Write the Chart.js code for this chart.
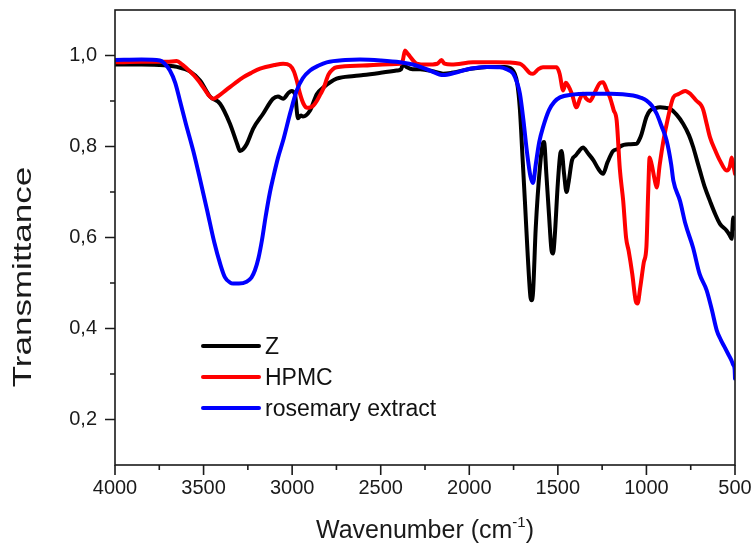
<!DOCTYPE html>
<html>
<head>
<meta charset="utf-8">
<script src="https://cdn.jsdelivr.net/npm/chart.js@4/dist/chart.umd.min.js"></script>
<style>
html,body{margin:0;padding:0;background:#fff;}
#wrap{width:752px;height:545px;position:relative;}
</style>
</head>
<body>
<div id="wrap"><canvas id="c" width="752" height="545"></canvas></div>
<script>
// ---- data ----
const seriesNames = ['Z', 'HPMC', 'rosemary extract'];

const zWave = [4000,3850,3750,3706,3650,3577,3520,3464,3407,3351,3310,3294,3275,3257,3219,3164,3108,3080,3051,3020,3003,2984,2967,2950,2939,2899,2861,2823,2749,2650,2599,2500,2410,2385,2374,2355,2320,2278,2200,2148,2100,2000,1900,1800,1760,1730,1714,1700,1686,1670,1655,1648,1640,1625,1600,1585,1578,1565,1550,1535,1527,1518,1500,1485,1479,1465,1451,1440,1420,1400,1380,1358,1330,1300,1270,1245,1220,1188,1160,1149,1100,1055,1040,1027,1000,980,950,923,895,867,830,793,760,737,715,698,670,641,610,585,547,530,519,510,505,500];
const zT = [0.980,0.980,0.979,0.978,0.975,0.965,0.945,0.910,0.894,0.850,0.805,0.790,0.795,0.805,0.840,0.872,0.905,0.910,0.905,0.918,0.922,0.915,0.862,0.868,0.866,0.879,0.915,0.930,0.949,0.955,0.957,0.962,0.967,0.970,0.980,0.975,0.970,0.970,0.965,0.960,0.962,0.970,0.975,0.975,0.970,0.940,0.880,0.780,0.680,0.560,0.470,0.462,0.480,0.620,0.760,0.806,0.810,0.740,0.650,0.570,0.565,0.600,0.720,0.787,0.790,0.740,0.700,0.720,0.770,0.780,0.790,0.798,0.785,0.770,0.750,0.740,0.765,0.790,0.795,0.800,0.805,0.806,0.815,0.828,0.865,0.879,0.884,0.886,0.885,0.883,0.870,0.850,0.825,0.800,0.770,0.747,0.710,0.680,0.650,0.630,0.615,0.605,0.597,0.644,0.630,0.620];

const hpmcWave = [4000,3850,3706,3652,3620,3577,3540,3502,3470,3446,3420,3370,3320,3277,3230,3181,3100,3051,3012,2990,2974,2955,2936,2915,2899,2880,2861,2840,2823,2795,2770,2749,2600,2450,2391,2375,2363,2350,2335,2315,2297,2241,2180,2157,2140,2100,1979,1850,1714,1690,1660,1640,1610,1584,1507,1490,1470,1455,1442,1420,1395,1375,1358,1340,1319,1290,1260,1245,1225,1206,1185,1168,1150,1131,1115,1100,1080,1060,1050,1035,1015,1000,990,982,970,955,942,925,904,880,848,820,781,750,716,690,678,660,641,610,585,547,530,519,510,500];
const hpmcT = [0.985,0.986,0.986,0.988,0.980,0.965,0.950,0.930,0.912,0.905,0.910,0.925,0.940,0.952,0.962,0.971,0.979,0.982,0.978,0.965,0.945,0.915,0.894,0.885,0.886,0.890,0.900,0.915,0.928,0.958,0.970,0.974,0.978,0.981,0.982,0.990,1.011,1.005,0.998,0.988,0.982,0.980,0.982,0.990,0.982,0.980,0.985,0.985,0.982,0.975,0.962,0.960,0.970,0.974,0.974,0.960,0.923,0.940,0.934,0.915,0.886,0.905,0.916,0.905,0.900,0.920,0.940,0.941,0.925,0.908,0.880,0.857,0.750,0.680,0.600,0.570,0.520,0.460,0.455,0.490,0.545,0.580,0.700,0.776,0.760,0.730,0.710,0.760,0.813,0.860,0.908,0.915,0.922,0.915,0.900,0.890,0.879,0.850,0.820,0.790,0.769,0.747,0.755,0.776,0.760,0.740];

const roseWave = [4000,3850,3746,3720,3690,3660,3633,3600,3558,3520,3480,3440,3407,3380,3350,3333,3300,3257,3230,3210,3190,3170,3150,3125,3108,3080,3051,3010,2974,2940,2899,2850,2805,2700,2617,2500,2391,2300,2222,2148,2080,1996,1900,1827,1790,1752,1730,1714,1695,1675,1655,1640,1625,1605,1584,1550,1520,1488,1420,1337,1200,1075,1030,999,970,942,915,886,860,848,810,780,737,700,660,630,603,580,560,540,520,510,502,500];
const roseT = [0.990,0.991,0.989,0.982,0.967,0.940,0.900,0.850,0.790,0.728,0.660,0.590,0.543,0.513,0.501,0.499,0.499,0.503,0.512,0.528,0.555,0.595,0.645,0.700,0.730,0.775,0.813,0.875,0.923,0.950,0.967,0.978,0.985,0.990,0.991,0.989,0.985,0.978,0.967,0.957,0.962,0.971,0.975,0.974,0.970,0.960,0.940,0.916,0.860,0.790,0.735,0.720,0.760,0.810,0.842,0.880,0.898,0.908,0.914,0.916,0.916,0.912,0.907,0.901,0.890,0.872,0.845,0.813,0.760,0.725,0.680,0.630,0.578,0.520,0.484,0.440,0.396,0.375,0.360,0.345,0.330,0.320,0.310,0.290];

const xTickValues = [4000,3500,3000,2500,2000,1500,1000,500];
const xMinorValues = [3750,3250,2750,2250,1750,1250,750];
const yTickValues = [0.2,0.4,0.6,0.8,1.0];
const yMinorValues = [0.3,0.5,0.7,0.9];

const seriesColors = ['#000000', '#ff0000', '#0000ff'];

// ---- build ----
const toPts = (w, t) => w.map((v, i) => ({x: v, y: t[i]}));
const FONT = '"Liberation Sans", Arial, sans-serif';

const decor = {
  id: 'decor',
  afterDraw(chart) {
    const {ctx, chartArea: a, scales: {x, y}} = chart;
    ctx.save();
    ctx.strokeStyle = '#1a1a1a';
    ctx.lineWidth = 1.6;
    ctx.strokeRect(a.left, a.top, a.right - a.left, a.bottom - a.top);
    ctx.beginPath();
    xTickValues.forEach(v => { const p = x.getPixelForValue(v); ctx.moveTo(p, a.bottom); ctx.lineTo(p, a.bottom + 10); });
    xMinorValues.forEach(v => { const p = x.getPixelForValue(v); ctx.moveTo(p, a.bottom); ctx.lineTo(p, a.bottom + 5); });
    yTickValues.forEach(v => { const p = y.getPixelForValue(v); ctx.moveTo(a.left, p); ctx.lineTo(a.left - 10, p); });
    yMinorValues.forEach(v => { const p = y.getPixelForValue(v); ctx.moveTo(a.left, p); ctx.lineTo(a.left - 5, p); });
    ctx.stroke();

    // y title (stretched along its length like the reference)
    ctx.fillStyle = '#1a1a1a';
    ctx.save();
    ctx.translate(24, 277);
    ctx.rotate(-Math.PI / 2);
    ctx.scale(1.4, 1);
    ctx.font = '25px ' + FONT;
    ctx.textAlign = 'center';
    ctx.textBaseline = 'middle';
    ctx.fillText('Transmittance', 0, 0);
    ctx.restore();

    // x title with superscript
    const main = 'Wavenumber (cm', sup = '-1', close = ')';
    ctx.font = '25px ' + FONT;
    const w1 = ctx.measureText(main).width;
    const w3 = ctx.measureText(close).width;
    ctx.font = '15px ' + FONT;
    const w2 = ctx.measureText(sup).width;
    const total = w1 + w2 + w3;
    const cx = (a.left + a.right) / 2;
    const sx = cx - total / 2;
    const base = 538;
    ctx.textAlign = 'left';
    ctx.textBaseline = 'alphabetic';
    ctx.font = '25px ' + FONT;
    ctx.fillText(main, sx, base);
    ctx.font = '15px ' + FONT;
    ctx.fillText(sup, sx + w1, base - 11);
    ctx.font = '25px ' + FONT;
    ctx.fillText(close, sx + w1 + w2, base);

    // legend
    const ly = [346, 377, 408];
    ctx.font = '23px ' + FONT;
    seriesNames.forEach((n, i) => {
      ctx.strokeStyle = seriesColors[i];
      ctx.lineWidth = 4;
      ctx.lineCap = 'round';
      ctx.beginPath();
      ctx.moveTo(203, ly[i]);
      ctx.lineTo(259, ly[i]);
      ctx.stroke();
      ctx.fillStyle = '#111';
      ctx.fillText(n, 265, ly[i] + 8);
    });
    ctx.restore();
  }
};

const mk = (label, pts, color, order) => ({
  label, data: pts, borderColor: color, backgroundColor: color,
  borderWidth: 4, pointRadius: 0, fill: false, order,
  cubicInterpolationMode: 'monotone', borderJoinStyle: 'round', borderCapStyle: 'round'
});

new Chart(document.getElementById('c'), {
  type: 'line',
  data: {
    datasets: [
      mk(seriesNames[0], toPts(zWave, zT), seriesColors[0], 2),
      mk(seriesNames[1], toPts(hpmcWave, hpmcT), seriesColors[1], 1),
      mk(seriesNames[2], toPts(roseWave, roseT), seriesColors[2], 0)
    ]
  },
  options: {
    responsive: false,
    animation: false,
    events: [],
    layout: {padding: {top: 10, right: 17, left: 0, bottom: 0}},
    plugins: {legend: {display: false}, tooltip: {enabled: false}},
    scales: {
      x: {
        type: 'linear', reverse: true, min: 500, max: 4000,
        afterBuildTicks: s => { s.ticks = xTickValues.map(v => ({value: v})); },
        afterFit: s => { s.height = 80; s.paddingLeft = 0; s.paddingRight = 0; },
        grid: {display: false, drawTicks: false},
        border: {display: false},
        ticks: {padding: 11, color: '#1a1a1a', font: {size: 20, family: FONT}, callback: v => String(v), maxRotation: 0, autoSkip: false}
      },
      y: {
        type: 'linear', min: 0.1, max: 1.1,
        afterBuildTicks: s => { s.ticks = yTickValues.map(v => ({value: v})); },
        afterFit: s => { s.width = 115; s.paddingTop = 0; s.paddingBottom = 0; },
        grid: {display: false, drawTicks: false},
        border: {display: false},
        ticks: {padding: 18, color: '#1a1a1a', font: {size: 20, family: FONT}, callback: v => Number(v).toFixed(1).replace('.', ',')}
      }
    }
  },
  plugins: [decor]
});
</script>
</body>
</html>
